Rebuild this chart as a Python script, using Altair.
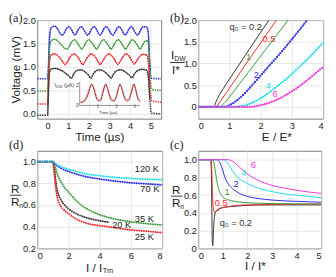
import altair as alt
import pandas as pd

FONT = "Liberation Sans, Arial, DejaVu Sans"
SERIF = "Liberation Serif, Times New Roman, DejaVu Serif"
INK = "#222222"
BLACK = "#333333"
RED = "#ee2a2a"
GREEN = "#3a9a3a"
BLUE = "#2a2ae6"
CYAN = "#22dde8"
MAGENTA = "#f032d8"
BROWN = "#9c2b2b"
PINK = "#e07070"

# ---------------- panel (a): voltage traces (time us, mV) ----------------
a_blue = [[-0.5,0.75],[0,0.75],[0.03,0.9],[0.07,1.4],[0.12,1.75],[0.2,1.85],[0.35,1.87],
          [0.5,1.8],[0.6,1.72],[0.7,1.68],[0.8,1.72],[0.9,1.81],
          [1.02,1.86],[1.15,1.8],[1.25,1.72],[1.32,1.68],[1.4,1.72],[1.5,1.81],
          [1.62,1.86],[1.75,1.8],[1.85,1.72],[1.94,1.68],[2.03,1.72],[2.13,1.81],
          [2.25,1.86],[2.37,1.8],[2.46,1.72],[2.54,1.68],[2.62,1.72],[2.72,1.81],
          [2.84,1.86],[2.96,1.8],[3.06,1.72],[3.15,1.68],[3.24,1.72],[3.34,1.81],
          [3.46,1.86],[3.58,1.8],[3.68,1.72],[3.76,1.68],[3.84,1.72],[3.94,1.81],
          [4.05,1.86],[4.16,1.8],[4.26,1.72],[4.35,1.68],[4.43,1.72],[4.53,1.81],
          [4.65,1.86],[4.8,1.85],[4.88,1.7],[4.93,1.2],[4.98,0.85],[5.05,0.76],[5.5,0.75]]
a_green = [[-0.5,0.49],[0,0.49],[0.03,0.7],[0.07,1.2],[0.12,1.5],[0.2,1.57],[0.35,1.59],
           [0.5,1.55],[0.65,1.48],[0.8,1.41],[0.94,1.38],
           [1.05,1.44],[1.17,1.54],[1.3,1.58],[1.42,1.53],[1.55,1.44],[1.65,1.38],
           [1.76,1.44],[1.88,1.54],[2.0,1.58],[2.12,1.53],[2.26,1.44],[2.36,1.38],
           [2.47,1.44],[2.59,1.54],[2.71,1.58],[2.83,1.53],[2.97,1.44],[3.07,1.38],
           [3.18,1.44],[3.3,1.54],[3.42,1.58],[3.54,1.53],[3.67,1.44],[3.77,1.38],
           [3.88,1.44],[4.0,1.54],[4.12,1.58],[4.24,1.53],[4.38,1.44],[4.48,1.38],
           [4.6,1.47],[4.72,1.55],[4.85,1.56],[4.92,1.3],[4.97,0.8],[5.05,0.52],[5.5,0.5]]
a_red = [[-0.5,0.21],[0,0.21],[0.03,0.5],[0.07,0.95],[0.12,1.2],[0.2,1.27],[0.35,1.28],
         [0.5,1.24],[0.65,1.16],[0.77,1.09],[0.85,1.05],
         [0.95,1.11],[1.1,1.22],[1.28,1.28],[1.43,1.23],[1.58,1.13],[1.7,1.05],
         [1.8,1.11],[1.95,1.22],[2.12,1.28],[2.28,1.23],[2.43,1.13],[2.55,1.05],
         [2.65,1.11],[2.8,1.22],[2.97,1.28],[3.13,1.23],[3.28,1.13],[3.4,1.05],
         [3.5,1.11],[3.65,1.22],[3.8,1.28],[3.95,1.23],[4.1,1.12],[4.2,1.06],
         [4.3,1.12],[4.45,1.22],[4.62,1.27],[4.82,1.25],[4.9,1.0],[4.96,0.55],[5.05,0.28],[5.5,0.25]]
a_black = [[-0.5,-0.03],[0,-0.03],[0.03,0.3],[0.07,0.8],[0.12,0.93],[0.2,0.96],
           [0.4,0.97],[0.6,0.94],[0.8,0.89],[1.0,0.82],[1.15,0.76],
           [1.25,0.84],[1.4,0.92],[1.6,0.94],[1.8,0.9],[1.97,0.83],[2.1,0.76],
           [2.2,0.84],[2.35,0.92],[2.55,0.94],[2.75,0.9],[2.93,0.83],[3.08,0.76],
           [3.18,0.84],[3.33,0.92],[3.55,0.94],[3.75,0.9],[3.95,0.83],[4.1,0.77],
           [4.2,0.85],[4.35,0.92],[4.55,0.95],[4.8,0.93],[4.88,0.8],[4.95,0.3],[5.02,0.02],[5.5,0.0]]
a_keys = ["blue", "green", "red", "black"]
a_cols = [BLUE, GREEN, RED, BLACK]

# inset: I_DW (uA) vs time (us)
ins_sim = [[0.05,0.3],[0.2,0.35],[0.32,0.55],[0.44,1.0],[0.55,1.65],[0.66,2.1],[0.77,1.6],
           [0.88,0.9],[1.0,0.45],[1.12,0.45],[1.22,0.9],[1.32,1.6],[1.42,2.1],[1.53,1.55],
           [1.64,0.85],[1.77,0.45],[1.9,0.45],[2.0,0.85],[2.1,1.55],[2.2,2.1],[2.31,1.55],
           [2.42,0.85],[2.55,0.45],[2.67,0.5],[2.77,0.95],[2.87,1.6],[2.96,2.1],[3.06,1.5],
           [3.16,0.7],[3.3,0.35]]
ins_exp = [[0.05,0.32],[0.2,0.45],[0.32,0.75],[0.44,1.25],[0.55,1.8],[0.65,2.0],[0.76,1.75],
           [0.88,1.1],[1.0,0.6],[1.12,0.6],[1.22,1.1],[1.32,1.75],[1.41,2.0],[1.52,1.7],
           [1.64,1.05],[1.77,0.6],[1.9,0.6],[2.0,1.05],[2.1,1.7],[2.19,2.0],[2.3,1.7],
           [2.42,1.05],[2.55,0.6],[2.67,0.65],[2.77,1.15],[2.87,1.75],[2.95,2.0],[3.05,1.65],
           [3.16,0.9],[3.3,0.45]]
ins_xmax = 3.3
ins_ymax = 2.3
ins_xticks = [1, 2, 3]
ins_yticks = [0, 2]

# ---------------- panel (b): I_DW/I* vs E/E* ----------------
b_02 = [[0,0],[0.52,0],[0.54,0.06],[0.57,0.12],[0.62,0.2],[0.8,0.42],[1.0,0.64],[1.25,0.91],
        [1.5,1.18],[1.75,1.45],[2.0,1.72],[2.27,2.0]]
b_05 = [[0,0],[0.6,0],[0.63,0.05],[0.7,0.12],[0.9,0.33],[1.2,0.64],[1.5,0.96],[1.8,1.27],
        [2.1,1.58],[2.5,2.0]]
b_1 = [[0,0],[0.7,0],[0.75,0.03],[0.85,0.1],[1.0,0.23],[1.3,0.51],[1.6,0.79],[1.9,1.08],
       [2.2,1.36],[2.5,1.64],[2.88,2.0]]
b_2 = [[0,0],[0.85,0],[1.0,0.04],[1.2,0.13],[1.5,0.32],[1.75,0.52],[2.0,0.72],[2.25,0.93],
       [2.5,1.13],[2.75,1.34],[3.0,1.56],[3.25,1.78],[3.49,2.0]]
b_4 = [[0,0],[1.2,0],[1.4,0.02],[1.6,0.06],[1.8,0.12],[2.0,0.2],[2.25,0.32],[2.5,0.46],
       [2.75,0.6],[3.0,0.76],[3.25,0.93],[3.5,1.1],[3.75,1.29],[4.0,1.48]]
b_6 = [[0,0],[1.6,0],[1.8,0.01],[2.0,0.04],[2.25,0.09],[2.5,0.16],[2.75,0.25],[3.0,0.36],
       [3.25,0.48],[3.5,0.62],[3.75,0.77],[4.0,0.92]]
b_keys = ["b0.2", "b0.5", "b1", "b2", "b4", "b6"]
b_cols = [BLACK, RED, GREEN, BLUE, CYAN, MAGENTA]
b_lab_text = ["q\u2080 = 0.2", "0.5", "1", "2", "4", "6"]
b_lab_x = [1.0, 2.06, 1.53, 1.78, 2.16, 2.38]
b_lab_y = [1.85, 1.56, 1.14, 0.74, 0.47, 0.29]

# ---------------- panel (d): R/Rn vs I/I_Tm ----------------
d_20 = [[0,1.0],[1.0,1.0],[1.1,0.93],[1.2,0.8],[1.35,0.7],[1.5,0.65],[1.75,0.6],[2.0,0.565],
        [2.5,0.52],[3.0,0.49],[3.5,0.47],[4.0,0.455],[4.6,0.44]]
d_25 = [[0,1.0],[1.0,1.0],[1.05,0.95],[1.15,0.8],[1.3,0.66],[1.5,0.59],[1.75,0.55],[2.0,0.52],
        [2.5,0.47],[3.0,0.44],[3.5,0.42],[4.0,0.41],[5.0,0.39],[6.0,0.37],[7.0,0.358],[8.0,0.345]]
d_35 = [[0,1.0],[1.0,1.0],[1.1,0.97],[1.3,0.88],[1.5,0.82],[1.75,0.76],[2.0,0.72],[2.5,0.64],
        [3.0,0.58],[3.5,0.54],[4.0,0.51],[5.0,0.47],[6.0,0.445],[7.0,0.428],[8.0,0.415]]
d_70 = [[0,1.0],[1.0,1.0],[1.2,0.97],[1.5,0.94],[2.0,0.91],[2.5,0.885],[3.0,0.865],[4.0,0.84],
        [5.0,0.82],[6.0,0.805],[7.0,0.795],[8.0,0.785]]
d_120 = [[0,1.0],[0.5,1.0],[1.0,1.0],[1.2,0.98],[1.5,0.955],[2.0,0.93],[2.5,0.91],[3.0,0.89],
         [4.0,0.87],[5.0,0.855],[6.0,0.845],[7.0,0.838],[8.0,0.833]]
d_keys = ["20 K", "25 K", "35 K", "70 K", "120 K"]
d_cols = [BLACK, RED, GREEN, BLUE, CYAN]
d_lab_text = ["120 K", "70 K", "35 K", "20 K", "25 K"]
d_lab_x = [6.25, 6.6, 6.25, 4.8, 6.25]
d_lab_y = [0.935, 0.745, 0.468, 0.415, 0.30]

# ---------------- panel (c): R/Rn vs I/I* ----------------
c_02 = [[0,1.0],[0.5,1.0],[0.53,0.9],[0.55,0.5],[0.57,0.1],[0.59,0.03],[0.62,0.2],[0.66,0.36],
        [0.75,0.43],[1.0,0.46],[1.5,0.475],[2.0,0.485],[3.0,0.49],[4.0,0.49],[5.0,0.49]]
c_05 = [[0,1.0],[0.52,1.0],[0.55,0.9],[0.58,0.6],[0.62,0.45],[0.66,0.41],[0.75,0.42],[0.9,0.45],
        [1.2,0.47],[2.0,0.49],[3.0,0.495],[5.0,0.5]]
c_1 = [[0,1.0],[0.6,1.0],[0.65,0.95],[0.72,0.82],[0.8,0.7],[0.9,0.62],[1.0,0.58],[1.2,0.55],
       [1.5,0.53],[2.0,0.515],[3.0,0.505],[5.0,0.5]]
c_2 = [[0,1.0],[0.75,1.0],[0.85,0.98],[0.95,0.92],[1.05,0.83],[1.15,0.76],[1.3,0.7],[1.5,0.65],
       [1.75,0.61],[2.0,0.585],[2.5,0.56],[3.0,0.545],[4.0,0.53],[5.0,0.52]]
c_4 = [[0,1.0],[1.0,1.0],[1.1,0.99],[1.25,0.94],[1.4,0.87],[1.6,0.8],[1.8,0.76],[2.0,0.73],
       [2.5,0.675],[3.0,0.64],[3.5,0.615],[4.0,0.6],[4.5,0.585],[5.0,0.57]]
c_6 = [[0,1.0],[1.2,1.0],[1.35,0.99],[1.5,0.96],[1.7,0.91],[2.0,0.84],[2.5,0.76],[3.0,0.71],
       [3.5,0.68],[4.0,0.655],[4.5,0.635],[5.0,0.62]]
c_keys = ["c0.2", "c0.5", "c1", "c2", "c4", "c6"]
c_cols = [BLACK, RED, GREEN, BLUE, CYAN, MAGENTA]
c_lab_text = ["q\u2080 = 0.2", "0.5", "1", "2", "4", "6"]
c_lab_x = [0.87, 0.67, 1.07, 1.43, 1.75, 2.14]
c_lab_y = [0.29, 0.51, 0.64, 0.73, 0.85, 0.94]


def pairs(p, key):
    return pd.DataFrame({"x": [q[0] for q in p], "y": [q[1] for q in p], "s": key})


one = pd.DataFrame({"k": [0]})


def txt(text, x, y, size=12, align="left", baseline="alphabetic", font=FONT, color=INK):
    return alt.Chart(one).mark_text(text=text, align=align, baseline=baseline, fontSize=size,
                                    font=font, color=color).encode(x=alt.value(x), y=alt.value(y))


def hbar(x1, x2, y):
    return alt.Chart(one).mark_rule(color=INK, strokeWidth=0.9).encode(
        x=alt.value(x1), x2=alt.value(x2), y=alt.value(y))


zero_lab = "datum.value == 0 ? '0' : format(datum.value, '.1f')"

# ---------------- build panel (a) ----------------
a_df = pd.concat([pairs(p, k) for p, k in zip([a_blue, a_green, a_red, a_black], a_keys)])
ax = alt.X("x:Q", scale=alt.Scale(domain=[-0.5, 5.5], nice=False, zero=False),
           axis=alt.Axis(values=[0, 1, 2, 3, 4, 5], format="d", title="Time (µs)",
                         titleY=13.5, titleBaseline="top"))
ay = alt.Y("y:Q", scale=alt.Scale(domain=[-0.1, 2.0], nice=False, zero=False),
           axis=alt.Axis(values=[0, 0.5, 1, 1.5, 2], format=".1f", title="Voltage (mV)", titleX=-15))
acol = alt.Color("s:N", scale=alt.Scale(domain=a_keys, range=a_cols), legend=None)
a_dot = alt.Chart(a_df).mark_line(strokeWidth=1.6, strokeDash=[1.4, 1.1], interpolate="monotone").encode(ax, ay, acol)
a_sol = alt.Chart(a_df).transform_filter("datum.x >= 0 && datum.x <= 5").mark_line(
    strokeWidth=0.9, interpolate="monotone").encode(ax, ay, acol)
a_main = alt.layer(a_dot, a_sol, txt("(a)", -29, -8, size=12.5, baseline="top", font=SERIF))

# inset, drawn on its own scales placed inside panel (a)
IXS = dict(domain=[0, ins_xmax], range=[43.5, 105.5], nice=False, zero=False)
IYS = dict(domain=[0, ins_ymax], range=[87.5, 63.35], nice=False, zero=False)
ix = alt.X("x:Q", scale=alt.Scale(**IXS), axis=None)
iy = alt.Y("y:Q", scale=alt.Scale(**IYS), axis=None)
ins_axes_df = pd.DataFrame({"x": [0, 0], "x2": [0, ins_xmax], "y": [0, 0], "y2": [ins_ymax, 0]})
ins_xt_df = pd.DataFrame({"x": ins_xticks, "x2": ins_xticks, "y": [0] * 3, "y2": [0.15] * 3,
                          "lab": [str(v) for v in ins_xticks], "ly": [-0.17] * 3})
ins_yt_df = pd.DataFrame({"y": ins_yticks, "lab": [str(v) for v in ins_yticks], "lx": [-0.06] * 2})
ins_txt_df = pd.DataFrame({"x": [1.55, -1.38, -0.86], "y": [-0.75, 1.95, 1.95],
                           "t": ["Time (µs)", "I", "(µA)"]})
ins_sub_df = pd.DataFrame({"x": [-1.29], "y": [1.82], "t": ["DW"]})

ins_axes = alt.Chart(ins_axes_df).mark_rule(color="#666", strokeWidth=0.7).encode(ix, iy, x2="x2:Q", y2="y2:Q")
ins_ticks = alt.Chart(ins_xt_df).mark_rule(color="#666", strokeWidth=0.6).encode(ix, iy, x2="x2:Q", y2="y2:Q")
ins_xl = alt.Chart(ins_xt_df).mark_text(fontSize=4.5, color="#444", baseline="middle").encode(
    ix, alt.Y("ly:Q", scale=alt.Scale(**IYS), axis=None), text="lab:N")
ins_yl = alt.Chart(ins_yt_df).mark_text(fontSize=5, color="#444", align="right", baseline="middle").encode(
    alt.X("lx:Q", scale=alt.Scale(**IXS), axis=None), iy, text="lab:N")
ins_t = alt.Chart(ins_txt_df.iloc[1:]).mark_text(fontSize=5.5, color="#444", align="left", baseline="middle").encode(
    ix, iy, text="t:N")
ins_tt = alt.Chart(ins_txt_df.iloc[:1]).mark_text(fontSize=4.5, color="#444", align="center", baseline="middle").encode(
    ix, iy, text="t:N")
ins_s = alt.Chart(ins_sub_df).mark_text(fontSize=4, color="#444", align="left", baseline="middle").encode(
    ix, iy, text="t:N")
ins_exp_l = alt.Chart(pairs(ins_exp, "exp")).mark_line(color=PINK, strokeWidth=1.1, strokeDash=[1.2, 1],
                                                       interpolate="monotone").encode(ix, iy)
ins_sim_l = alt.Chart(pairs(ins_sim, "sim")).mark_line(color=BROWN, strokeWidth=1.0,
                                                       interpolate="monotone").encode(ix, iy)
a_inset = alt.layer(ins_axes, ins_ticks, ins_xl, ins_yl, ins_t, ins_tt, ins_s, ins_exp_l, ins_sim_l)
pa = alt.layer(a_main, a_inset).resolve_scale(x="independent", y="independent").properties(width=127, height=101)

# ---------------- build panel (b) ----------------
b_df = pd.concat([pairs(p, k) for p, k in zip([b_02, b_05, b_1, b_2, b_4, b_6], b_keys)])
bx = alt.X("x:Q", scale=alt.Scale(domain=[0, 4], nice=False),
           axis=alt.Axis(values=[0, 1, 2, 3, 4], format="d", title="E / E*", titleX=80,
                         titleY=13.5, titleBaseline="top"))
by = alt.Y("y:Q", scale=alt.Scale(domain=[-0.27, 2.0], nice=False, zero=False),
           axis=alt.Axis(values=[0, 0.5, 1, 1.5, 2], labelExpr=zero_lab, title=None))
bcol = alt.Color("s:N", scale=alt.Scale(domain=b_keys, range=b_cols), legend=None)
b_thin = alt.Chart(b_df).mark_line(strokeWidth=1, interpolate="monotone").encode(bx, by, bcol)
b_dots = alt.Chart(b_df).transform_filter("datum.s == 'b2' || datum.s == 'b4' || datum.s == 'b6'").mark_line(
    strokeWidth=2.2, strokeDash=[1.3, 1.3], interpolate="monotone").encode(bx, by, bcol)
b_lab_df = pd.DataFrame({"x": b_lab_x, "y": b_lab_y, "s": b_keys, "t": b_lab_text})
b_labs = alt.Chart(b_lab_df).mark_text(align="left", baseline="middle", fontSize=9.5).encode(
    bx, by, bcol, text="t:N")
pb = alt.layer(
    b_thin, b_dots, b_labs,
    txt("I", -28, 40), txt("DW", -24.5, 42, size=7), hbar(-29, -14, 43.5), txt("I*", -27, 55),
    txt("(b)", -29, -8, size=12.5, baseline="top", font=SERIF),
).properties(width=128, height=101)

# ---------------- build panel (d) ----------------
d_df = pd.concat([pairs(p, k) for p, k in zip([d_20, d_25, d_35, d_70, d_120], d_keys)])
dx = alt.X("x:Q", scale=alt.Scale(domain=[0, 8], nice=False),
           axis=alt.Axis(values=[0, 2, 4, 6, 8], format="d", title=None))
dy = alt.Y("y:Q", scale=alt.Scale(domain=[0.2, 1.1], nice=False, zero=False),
           axis=alt.Axis(values=[0.2, 0.4, 0.6, 0.8, 1.0], format=".1f", title=None))
dcol = alt.Color("s:N", scale=alt.Scale(domain=d_keys, range=d_cols), legend=None)
d_thin = alt.Chart(d_df).mark_line(strokeWidth=0.8, interpolate="monotone").encode(dx, dy, dcol)
d_dots = alt.Chart(d_df).mark_line(strokeWidth=1.9, strokeDash=[1.2, 1.2], interpolate="monotone").encode(dx, dy, dcol)
d_lab_df = pd.DataFrame({"x": d_lab_x, "y": d_lab_y, "t": d_lab_text})
d_labs = alt.Chart(d_lab_df).mark_text(align="left", baseline="middle", fontSize=9.5, color=INK).encode(
    dx, dy, text="t:N")
pd_ = alt.layer(
    d_thin, d_dots, d_labs,
    txt("R", -27, 43), hbar(-28, -16, 45.5), txt("R", -27, 57), txt("n", -18.5, 59, size=7),
    txt("I / I", 50, 124), txt("Tm", 67, 125.5, size=7.5),
    txt("(d)", -29, -12, size=12.5, baseline="top", font=SERIF),
).properties(width=128, height=100)

# ---------------- build panel (c) ----------------
c_df = pd.concat([pairs(p, k) for p, k in zip([c_02, c_05, c_1, c_2, c_4, c_6], c_keys)])
cx = alt.X("x:Q", scale=alt.Scale(domain=[0, 5], nice=False),
           axis=alt.Axis(values=[0, 1, 2, 3, 4, 5], format="d", title="I / I*", titleX=58,
                         titleY=13, titleBaseline="top"))
cy = alt.Y("y:Q", scale=alt.Scale(domain=[0, 1.1], nice=False),
           axis=alt.Axis(values=[0, 0.2, 0.4, 0.6, 0.8, 1.0], labelExpr=zero_lab, title=None))
ccol = alt.Color("s:N", scale=alt.Scale(domain=c_keys, range=c_cols), legend=None)
c_lines = alt.Chart(c_df).mark_line(strokeWidth=1, interpolate="monotone").encode(cx, cy, ccol)
c_lab_df = pd.DataFrame({"x": c_lab_x, "y": c_lab_y, "s": c_keys, "t": c_lab_text})
c_labs = alt.Chart(c_lab_df).mark_text(align="left", baseline="middle", fontSize=9.5).encode(
    cx, cy, ccol, text="t:N")
pc = alt.layer(
    c_lines, c_labs,
    txt("R", -27, 44), hbar(-28, -16, 46.5), txt("R", -27, 58), txt("n", -18.5, 60, size=7),
    txt("(c)", -29, -12, size=12.5, baseline="top", font=SERIF),
).properties(width=126, height=100)

chart = alt.concat(
    pa, pb, pd_, pc, columns=2, spacing={"row": 33, "column": 37}, bounds="flush"
).resolve_scale(color="independent").properties(padding=0).configure(font=FONT).configure_axis(
    labelFont=FONT, labelFontSize=9.5, labelColor=INK, titleFont=FONT, titleFontSize=12,
    titleFontWeight="normal", titleColor=INK, ticks=False, domain=False,
    gridColor="#dddddd", gridWidth=0.7,
).configure_axisX(labelPadding=2).configure_axisY(labelPadding=2).configure_view(
    stroke="#7a7a7a", strokeWidth=1)

chart.save("out.html", embed_options={"renderer": "svg", "actions": False})
